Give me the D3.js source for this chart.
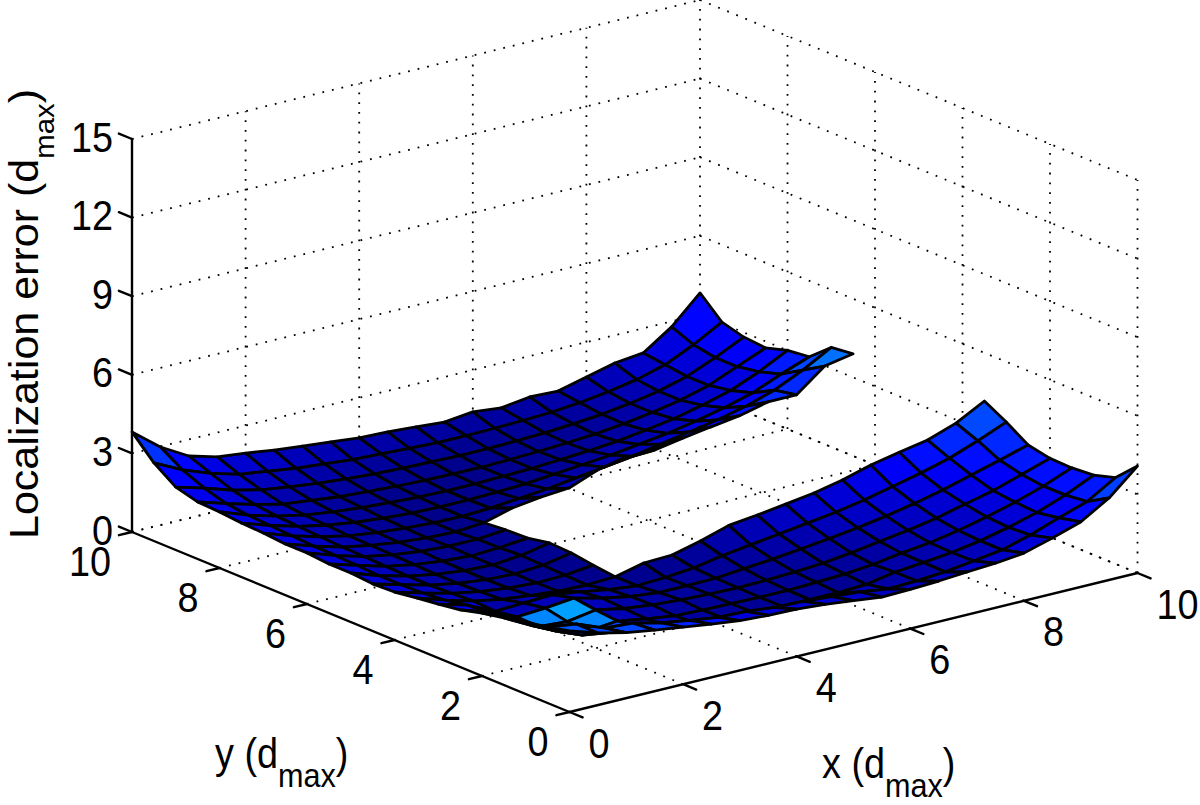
<!DOCTYPE html>
<html>
<head>
<meta charset="utf-8">
<script src="https://cdn.jsdelivr.net/npm/d3@7"></script>
<style>
  html, body { margin: 0; padding: 0; background: #fff; overflow: hidden; }
  text { font-family: "Liberation Sans", Helvetica, sans-serif; fill: #000; }
</style>
</head>
<body>
<script>
//grid nodes of the surface
var xValues = [0,0.5,1,1.5,2,2.5,3,3.5,4,4.5,5,5.5,6,6.5,7,7.5,8,8.5,9,9.5,10];
var yValues = [10,9.5,9,8.5,8,7.5,7,6.5,6,5.5,5,4.5,4,3.5,3,2.5,2,1.5,1,0.5,0];

//z per y row (same order as yValues), null = no surface there
var _ = null;
var zRows = [
  [3.82,2.98,2.37,2.07,1.95,1.80,1.69,1.58,1.47,1.43,1.36,1.28,1.40,1.29,1.44,1.40,1.67,1.94,2.06,2.79,3.82],
  [2.98,2.45,2.05,1.75,1.60,1.45,1.35,1.25,1.20,1.15,1.10,1.10,1.12,1.15,1.20,1.30,1.45,1.65,1.95,2.45,3.05],
  [2.40,2.10,1.75,1.50,1.35,1.22,1.12,1.05,1.00,0.98,0.95,0.95,0.98,1.02,1.10,1.20,1.35,1.55,1.85,2.30,2.82],
  [2.18,1.85,1.55,1.30,1.18,1.05,0.98,0.92,0.88,0.86,0.85,0.88,0.92,0.98,1.05,1.18,1.35,1.55,1.85,2.30,2.75],
  [2.14,1.75,1.45,1.22,1.08,0.98,0.90,0.85,0.82,0.82,0.85,0.88,0.95,1.02,1.12,1.28,1.45,1.70,2.00,2.45,3.00],
  [2.06,1.70,1.40,1.18,1.02,0.92,0.85,0.82,0.82,0.85,0.90,1.00,1.10,1.20,1.35,1.50,1.70,1.95,2.25,2.70,3.10],
  [2.02,1.65,1.35,1.12,0.98,0.88,0.82,0.80,0.85,0.95,1.05,1.20,1.35,1.50,1.70,1.90,2.10,2.35,2.70,3.20,3.80],
  [1.95,1.60,1.30,1.10,0.95,0.85,0.82,0.90,1.20,1.35,1.43,1.85,2.08,2.08,2.27,2.44,2.60,2.86,2.86,3.70,3.90],
  [1.95,1.58,1.28,1.08,0.95,0.88,0.88,0.97,_,_,_,_,_,_,_,_,_,_,_,_,_],
  [1.87,1.55,1.25,1.05,0.92,0.85,0.90,1.00,_,_,_,_,_,_,_,_,_,_,_,_,_],
  [1.87,1.50,1.22,1.02,0.90,0.85,0.95,1.16,_,_,_,_,_,_,_,_,_,_,_,_,_],
  [1.80,1.50,1.22,1.02,0.90,0.85,0.92,1.12,_,_,_,_,_,_,_,_,_,_,_,_,_],
  [1.83,1.52,1.25,1.05,0.92,0.85,0.88,1.00,_,_,_,_,_,_,_,_,_,_,_,_,_],
  [1.95,1.60,1.30,1.10,0.98,0.88,0.85,0.90,1.16,1.20,1.47,1.80,1.93,2.08,2.24,2.47,2.78,3.00,3.20,3.58,4.16],
  [2.06,1.75,1.25,1.30,1.35,1.20,1.02,0.90,0.95,1.05,1.25,1.40,1.55,1.70,1.85,2.05,2.30,2.55,2.85,3.25,3.70],
  [2.18,1.83,1.38,1.45,1.57,1.30,1.10,0.98,0.98,1.00,1.10,1.20,1.32,1.45,1.60,1.78,2.00,2.25,2.55,2.85,3.17],
  [2.40,1.95,1.35,1.28,1.46,1.25,1.12,1.05,1.00,0.98,1.00,1.05,1.12,1.25,1.42,1.58,1.78,2.05,2.30,2.65,3.00],
  [2.56,2.00,1.50,1.27,1.38,1.20,1.05,1.00,0.98,0.96,0.96,1.00,1.05,1.15,1.32,1.45,1.65,1.90,2.20,2.55,2.98],
  [2.75,2.15,1.72,1.56,1.45,1.30,1.12,1.02,1.00,0.96,0.95,0.95,1.00,1.20,1.30,1.42,1.60,1.85,2.15,2.55,3.05],
  [2.90,2.75,2.33,2.25,2.00,1.83,1.68,1.64,1.53,1.49,1.41,1.32,1.17,1.21,1.29,1.44,1.60,1.90,2.29,2.65,3.30],
  [3.10,2.75,2.50,2.33,2.18,2.03,1.90,1.83,1.80,1.72,1.60,1.47,1.50,1.55,1.63,1.70,1.82,2.13,2.48,3.13,4.08]
];

//faces near the corner that are lighter than their height says (x, y of lower corner, colour value)
var brightX = [1.5,1,1.5,1,1,1.5,0,0.5,1,1.5,2,2.5];
var brightY = [2,2,1.5,1.5,1,1,0,0,0,0,0,0];
var brightValue = [5.0,4.3,4.3,3.4,3.4,3.2,3.4,3.2,3.2,3.0,2.8,2.6];

var xTicks = [0,2,4,6,8,10];
var yTicks = [0,2,4,6,8,10];
var zTicks = [0,3,6,9,12,15];

var width = 1200, height = 805;
var origin = [569.5, 712];

//each axis is a screen offset per unit, the view is orthographic
var xAxisScale = d3.scaleLinear().domain([0,10]).range([[0,0],[568,-139]]);
var yAxisScale = d3.scaleLinear().domain([0,10]).range([[0,0],[-437.5,-180]]);
var zAxisScale = d3.scaleLinear().domain([0,15]).range([0,-393]);

function project(x, y, z){
  var a = xAxisScale(x), b = yAxisScale(y);
  return [origin[0] + a[0] + b[0], origin[1] + a[1] + b[1] + zAxisScale(z)];
}

var color = d3.scaleLinear()
  .domain([0.8,2.4,3.7,5])
  .range(["#000088","#0000ff","#0070ff","#00a0ff"]);

var svg = d3.select("body").append("svg")
  .attr("width", width)
  .attr("height", height);

/* DOTTED GRID */
var gridLines = [];
zTicks.forEach(function(z){
  gridLines.push([[0,10,z],[10,10,z]]);
  gridLines.push([[10,10,z],[10,0,z]]);
});
xTicks.forEach(function(x){
  if (x > 0) gridLines.push([[x,0,0],[x,10,0]]);
  if (x > 0) gridLines.push([[x,10,0],[x,10,15]]);
});
yTicks.forEach(function(y){
  if (y > 0) gridLines.push([[0,y,0],[10,y,0]]);
  if (y < 10) gridLines.push([[10,y,0],[10,y,15]]);
});

svg.append("g").selectAll("line")
  .data(gridLines)
  .enter()
  .append("line")
  .attr("x1", function(d){ return project.apply(null, d[0])[0]; })
  .attr("y1", function(d){ return project.apply(null, d[0])[1]; })
  .attr("x2", function(d){ return project.apply(null, d[1])[0]; })
  .attr("y2", function(d){ return project.apply(null, d[1])[1]; })
  .attr("stroke", "#000")
  .attr("stroke-width", 1.8)
  .attr("stroke-dasharray", "1.8 8");

/* SURFACE */
function brightFor(x, y){
  for (var k = 0; k < brightX.length; k++){
    if (brightX[k] === x && brightY[k] === y) return brightValue[k];
  }
  return null;
}

//yValues runs far to near, x is walked far to near too, so nearer faces paint over
var faces = [];
for (var r = 0; r < yValues.length - 1; r++){
  for (var c = xValues.length - 2; c >= 0; c--){
    var corners = [[c,r],[c+1,r],[c+1,r+1],[c,r+1]];
    var zs = corners.map(function(p){ return zRows[p[1]][p[0]]; });
    if (zs.indexOf(null) >= 0) continue;
    var bright = brightFor(xValues[c], yValues[r+1]);
    faces.push({
      points: corners.map(function(p, i){ return project(xValues[p[0]], yValues[p[1]], zs[i]); }),
      //a face takes the colour of its lowest x, lowest y corner
      value: bright !== null ? bright : zRows[r+1][c]
    });
  }
}

svg.append("g").selectAll("path")
  .data(faces)
  .enter()
  .append("path")
  .attr("d", function(d){ return "M" + d.points.join("L") + "Z"; })
  .attr("fill", function(d){ return color(d.value); })
  .attr("stroke", "#000")
  .attr("stroke-width", 2.8)
  .attr("stroke-linejoin", "round");

/* AXES */
var axisLines = [
  [[0,0,0],[10,0,0]],
  [[0,0,0],[0,10,0]],
  [[0,10,0],[0,10,15]]
];
xTicks.forEach(function(x){ axisLines.push([[x,0,0],[x,-0.3,0]]); });
yTicks.forEach(function(y){ axisLines.push([[0,y,0],[-0.23,y,0]]); });
zTicks.forEach(function(z){ axisLines.push([[0,10,z],[0,10.3,z]]); });

svg.append("g").selectAll("line")
  .data(axisLines)
  .enter()
  .append("line")
  .attr("x1", function(d){ return project.apply(null, d[0])[0]; })
  .attr("y1", function(d){ return project.apply(null, d[0])[1]; })
  .attr("x2", function(d){ return project.apply(null, d[1])[0]; })
  .attr("y2", function(d){ return project.apply(null, d[1])[1]; })
  .attr("stroke", "#000")
  .attr("stroke-width", 2.4)
  .attr("stroke-linecap", "round");

/* LABELS */
//reference type is tall and narrow, so the text is squeezed a little sideways
var fontSize = 42;
function squeezed(x, y){ return "translate(" + x + "," + y + ") scale(0.9,1)"; }

svg.append("g").selectAll("text")
  .data(xTicks)
  .enter()
  .append("text")
  .attr("transform", function(d){ var p = project(d,0,0); return squeezed(p[0] + 19, p[1] + 45.5); })
  .attr("font-size", fontSize)
  .text(function(d){ return d; });

svg.append("g").selectAll("text")
  .data(yTicks)
  .enter()
  .append("text")
  .attr("transform", function(d){ var p = project(0,d,0); return squeezed(p[0] - 21, p[1] + 43.5); })
  .attr("text-anchor", "end")
  .attr("font-size", fontSize)
  .text(function(d){ return d; });

svg.append("g").selectAll("text")
  .data(zTicks)
  .enter()
  .append("text")
  .attr("transform", function(d){ return squeezed(113, project(0,10,d)[1] + 12.5); })
  .attr("text-anchor", "end")
  .attr("font-size", fontSize)
  .text(function(d){ return d; });

function axisTitle(g, name, size, subSize, drop){
  var t = g.append("text").attr("font-size", size);
  t.append("tspan").text(name + " (d");
  t.append("tspan").attr("dy", drop).attr("font-size", subSize).text("max");
  t.append("tspan").attr("dy", -drop).text(")");
}

axisTitle(svg.append("g").attr("transform", squeezed(215, 768)), "y", 42, 34, 19);
axisTitle(svg.append("g").attr("transform", squeezed(822, 778)), "x", 42, 34, 19);
axisTitle(svg.append("g").attr("transform", "translate(38,539) rotate(-90) scale(1.05,1)"), "Localization error", 41, 28, 16);
</script>
</body>
</html>
